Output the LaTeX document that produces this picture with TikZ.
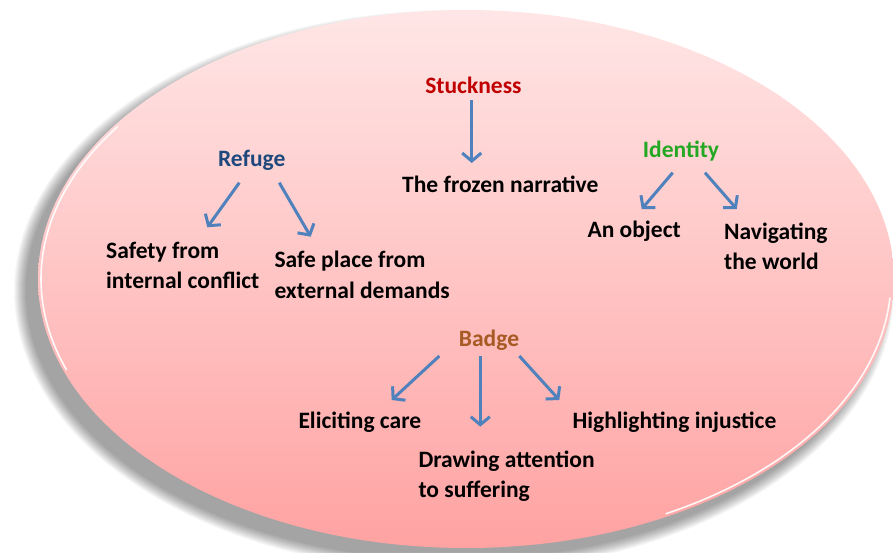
\documentclass[tikz,border=0pt]{standalone}
\usepackage{fontspec}
\setmainfont{Carlito}
\usetikzlibrary{arrows.meta,calc}
\definecolor{stuckred}{HTML}{C00000}
\definecolor{refugeblue}{HTML}{1F497D}
\definecolor{identgreen}{HTML}{24A824}
\definecolor{badgebrown}{HTML}{A65A24}
\definecolor{arrowblue}{HTML}{4F81BD}
\definecolor{pinktop}{HTML}{FFE6E6}
\definecolor{pinkbot}{HTML}{FFA2A2}
\begin{document}
\begin{tikzpicture}[x=1pt,y=-1pt,
  lbl/.style={inner sep=0pt, font=\fontsize{23.5}{30.5}\selectfont\bfseries, text=black},
  multi/.style={lbl, align=left, anchor=north west},
  arr/.style={draw=arrowblue, line width=3pt, -{Straight Barb[length=8pt,width=19pt]}}]
\useasboundingbox (0,0) rectangle (893,552);
\fill[white] (0,0) rectangle (893,552);
% soft shadow
\foreach \r in {0,1,...,12}{
  \fill[black, opacity=0.03] (454,291) ellipse [x radius=428+\r, y radius=269+\r];
}
% main ellipse
\shade[top color=pinktop, bottom color=pinkbot] (466,279) ellipse [x radius=428, y radius=269];
% white rim highlights
\draw[white, line width=1.6pt, opacity=0.9] (466,279) ++(160:425 and 266) arc[start angle=160, end angle=215, x radius=425, y radius=266];
\draw[white, line width=1.6pt, opacity=0.9] (466,279) ++(4:425 and 266) arc[start angle=4, end angle=62, x radius=425, y radius=266];

% labels
\node[lbl, text=stuckred, anchor=base] (stuck) at (473.4,93) {Stuckness};
\node[lbl, anchor=base west] (frozen) at (402,192) {The frozen narrative};
\node[lbl, text=refugeblue, anchor=base] (refuge) at (251.7,166) {Refuge};
\node[multi] (safety) at (106,241.5) {Safety from\\internal conflict};
\node[multi] (safeplace) at (274.3,251) {Safe place from\\external demands};
\node[lbl, text=identgreen, anchor=base] (identity) at (681,157) {Identity};
\node[lbl, anchor=base west] (object) at (587.3,237.3) {An object};
\node[multi] (navig) at (724,222.5) {Navigating\\the world};
\node[lbl, text=badgebrown, anchor=base] (badge) at (489,346) {Badge};
\node[lbl, anchor=base west] (eliciting) at (298.3,428.3) {Eliciting care};
\node[lbl, anchor=base west] (highlight) at (572.3,428.3) {Highlighting injustice};
\node[multi] (drawing) at (418.3,450.5) {Drawing attention\\to suffering};

% connectors
\draw[arr] ($(stuck.base)+(-1.7,7)$) -- ($(frozen.base west)+(69.7,-29)$);
\draw[arr] ($(refuge.base)+(-12.4,16.7)$) -- ($(safety.north west)+(101.3,-14.2)$);
\draw[arr] ($(refuge.base)+(27.6,16.7)$) -- ($(safeplace.north west)+(36.4,-14.3)$);
\draw[arr] ($(identity.base)+(-8.3,15.7)$) -- ($(object.base west)+(54.4,-28.3)$);
\draw[arr] ($(identity.base)+(24,15.7)$) -- ($(navig.north west)+(12.7,-13.5)$);
\draw[arr] ($(badge.base)+(-49.7,10)$) -- ($(eliciting.base west)+(93.4,-28.3)$);
\draw[arr] ($(badge.base)+(-8.7,10)$) -- ($(drawing.north west)+(62,-23.8)$);
\draw[arr] ($(badge.base)+(30.3,10)$) -- ($(highlight.base west)+(-13,-28.3)$);
\end{tikzpicture}
\end{document}
